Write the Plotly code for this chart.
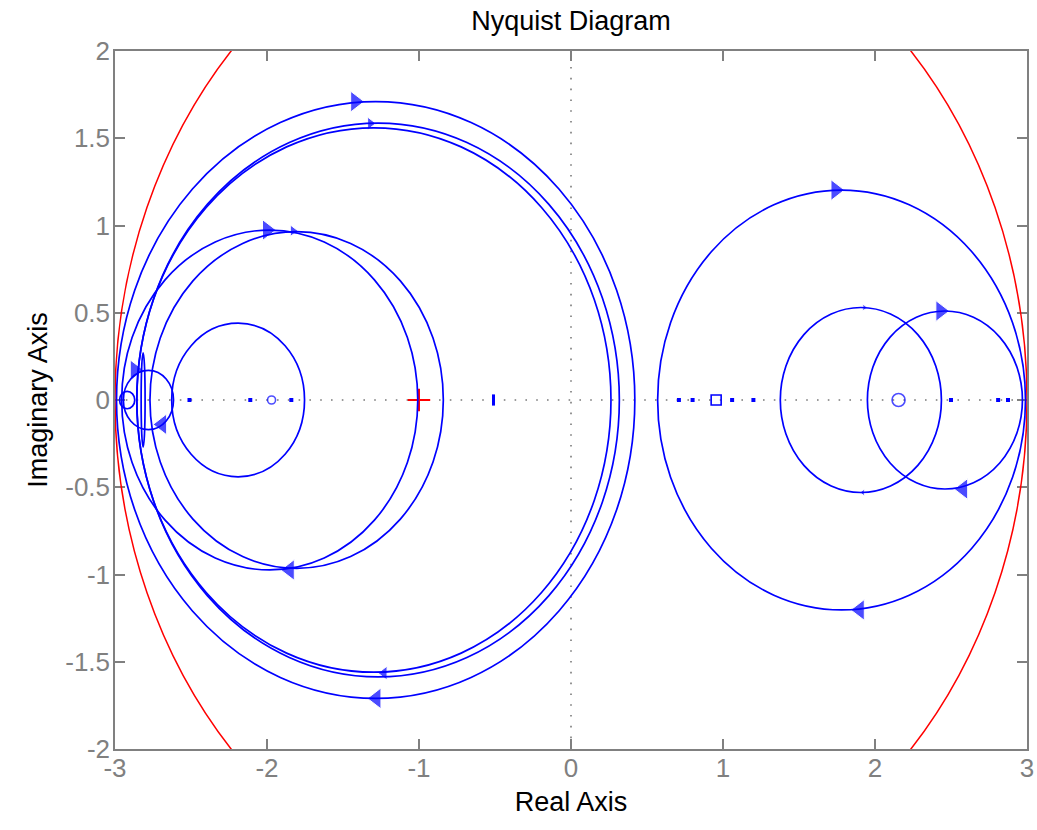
import plotly.graph_objects as go

# ---- data ----
# blue Nyquist loops (approximated as circles/ellipses): centre x, centre y, radius x, radius y
loop_cx = [-1.285, -1.269, -1.297, -1.982, -1.805, -2.19, -2.78, -2.92, -2.815, 1.78, 1.907, 2.46]
loop_cy = [0, 0, 0, 0, 0, 0, 0, 0, 0, 0, 0, 0]
loop_rx = [1.705, 1.587, 1.56, 0.974, 0.965, 0.437, 0.165, 0.05, 0.013, 1.21, 0.53, 0.51]
loop_ry = [1.71, 1.587, 1.56, 0.974, 0.965, 0.44, 0.17, 0.05, 0.27, 1.203, 0.53, 0.51]

# red reference circle radius
red_r = 3.0

# direction arrows
arr_r_x = [-1.42, -1.32, -2.0, -1.83, 1.74, 2.43, -2.87, 1.93]
arr_r_y = [1.71, 1.585, 0.974, 0.97, 1.203, 0.51, 0.17, 0.53]
arr_r_s = [18, 11, 18, 10, 18, 18, 18, 6]
arr_l_x = [-1.85, -1.23, -1.28, 2.58, 1.90, -2.69, 1.92]
arr_l_y = [-0.974, -1.565, -1.71, -0.51, -1.203, -0.14, -0.53]
arr_l_s = [18, 12, 18, 18, 18, 18, 6]

# small marks on the real axis
dot_x = [-2.51, -2.11, -1.84, 0.71, 0.80, 1.06, 1.20, 2.50, 2.81, 2.875]
dot_y = [0, 0, 0, 0, 0, 0, 0, 0, 0, 0]
bar_x = [-0.51]
bar_y = [0]
ocirc_x = [-1.97, 2.155]
ocirc_y = [0, 0]
ocirc_s = [8, 13]
osq_x = [0.955]
osq_y = [0]

critical_x = [-1]
critical_y = [0]

x_ticks = [-3, -2, -1, 0, 1, 2, 3]
x_labels = ["-3", "-2", "-1", "0", "1", "2", "3"]
y_ticks = [-2, -1.5, -1, -0.5, 0, 0.5, 1, 1.5, 2]
y_labels = ["-2", "-1.5", "-1", "-0.5", "0", "0.5", "1", "1.5", "2"]

BLUE = "#0000ff"
GRAY = "#808080"
FONT = "Liberation Sans, Arial, sans-serif"

FIG_W = 1037
FIG_H = 830

fig = go.Figure()

shapes = []
# dotted axes lines
dot_style = dict(color="#7a7a7a", width=1.6, dash="1.6px,9.2px")
shapes.append(dict(type="line", xref="x", yref="y", x0=-3, x1=3, y0=0, y1=0,
                   line=dot_style, layer="below"))
shapes.append(dict(type="line", xref="x", yref="y", x0=0, x1=0, y0=-2, y1=2,
                   line=dot_style, layer="below"))
# red circle
shapes.append(dict(type="circle", xref="x", yref="y", x0=-red_r, x1=red_r, y0=-red_r, y1=red_r,
                   line=dict(color="#ff0000", width=1.5)))
for cx, cy, rx, ry in zip(loop_cx, loop_cy, loop_rx, loop_ry):
    shapes.append(dict(type="circle", xref="x", yref="y",
                       x0=cx - rx, x1=cx + rx, y0=cy - ry, y1=cy + ry,
                       line=dict(color=BLUE, width=1.7)))

fig.add_trace(go.Scatter(x=dot_x, y=dot_y, mode="markers",
                         marker=dict(symbol="square", size=4, color=BLUE), showlegend=False))
fig.add_trace(go.Scatter(x=bar_x, y=bar_y, mode="markers",
                         marker=dict(symbol="line-ns", size=8, line=dict(color=BLUE, width=3)),
                         showlegend=False))
fig.add_trace(go.Scatter(x=ocirc_x, y=ocirc_y, mode="markers",
                         marker=dict(symbol="circle-open", size=ocirc_s, color=BLUE,
                                     line=dict(width=1.6)), showlegend=False))
fig.add_trace(go.Scatter(x=osq_x, y=osq_y, mode="markers",
                         marker=dict(symbol="square-open", size=10, color=BLUE,
                                     line=dict(width=1.6)), showlegend=False))
fig.add_trace(go.Scatter(x=arr_r_x, y=arr_r_y, mode="markers",
                         marker=dict(symbol="triangle-right", size=arr_r_s, color=BLUE),
                         showlegend=False))
fig.add_trace(go.Scatter(x=arr_l_x, y=arr_l_y, mode="markers",
                         marker=dict(symbol="triangle-left", size=arr_l_s, color=BLUE),
                         showlegend=False))
fig.add_trace(go.Scatter(x=critical_x, y=critical_y, mode="markers",
                         marker=dict(symbol="cross-thin", size=16,
                                     line=dict(color="#ff0000", width=2)),
                         showlegend=False))

axis_common = dict(showgrid=False, zeroline=False, showline=True, linecolor=GRAY, linewidth=1.5,
                   mirror="ticks", ticks="inside", ticklen=10, tickwidth=1.5, tickcolor=GRAY,
                   automargin=False,
                   tickfont=dict(family=FONT, size=26, color=GRAY))

fig.update_layout(
    width=FIG_W, height=FIG_H,
    margin=dict(l=115, r=10, t=51, b=81),
    paper_bgcolor="white", plot_bgcolor="white",
    shapes=shapes,
    title=dict(text="Nyquist Diagram", x=571 / FIG_W, xanchor="center",
               y=1 - 21 / FIG_H, yanchor="middle",
               font=dict(family=FONT, size=27, color="black")),
    xaxis=dict(range=[-3, 3], tickvals=x_ticks, ticktext=x_labels, ticklabelstandoff=-5,
               title=dict(text="Real Axis", font=dict(family=FONT, size=27, color="black"), standoff=10),
               **axis_common),
    yaxis=dict(range=[-2, 2], tickvals=y_ticks, ticktext=y_labels, ticklabelstandoff=-2,
               title=dict(text="Imaginary Axis", font=dict(family=FONT, size=27, color="black"), standoff=10),
               **axis_common),
)

fig.write_html("out.html",
               config={"displayModeBar": False},
               post_script="document.body.style.margin='0';document.body.style.overflow='hidden';")
